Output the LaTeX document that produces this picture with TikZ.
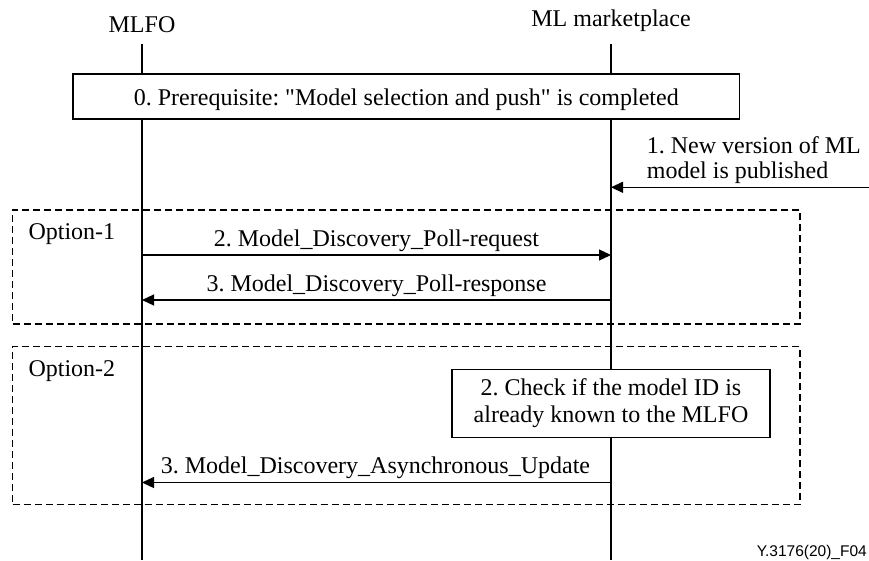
\documentclass[tikz,border=0pt]{standalone}
\usepackage{fontspec}
\setmainfont{Liberation Serif}
\newfontfamily\figsans{Liberation Sans}
\usetikzlibrary{arrows.meta}
\frenchspacing
\newcommand\straightdq{{\XeTeXglyph\XeTeXcharglyph 34\relax}}
\begin{document}
\begin{tikzpicture}[x=1pt,y=-1pt,
  txt/.style={font=\fontsize{24}{25}\selectfont, inner sep=0pt},
  lifeline/.style={line width=1.2pt},
  msg/.style={line width=1.2pt,-{Triangle[length=12pt,width=11pt]}},
  stepbox/.style={draw, fill=white, line width=1.2pt, inner sep=0pt},
  optbox/.style={draw, dash pattern=on 7pt off 4pt, line width=1.1pt}]
\useasboundingbox (0,0) rectangle (869,560);

% participants
\node[txt, anchor=base] (mlfo) at (142,32) {MLFO};
\node[txt, anchor=base] (mkt) at (611,26.5) {ML marketplace};

% lifelines
\coordinate (mlfoTop) at (142,44);
\coordinate (mlfoBot) at (142,560);
\coordinate (mktTop) at (611,44);
\coordinate (mktBot) at (611,560);
\draw[lifeline] (mlfoTop) -- (mlfoBot);
\draw[lifeline] (mktTop) -- (mktBot);

% step 0
\node[stepbox, txt, draw, fill=white, line width=1.2pt, minimum width=666.5pt, minimum height=45pt,
      text height=17pt, text depth=0pt] (pre) at (406.3,96.5)
  {\frenchspacing 0. Prerequisite: \straightdq Model selection and push\straightdq{} is completed};

% step 1
\coordinate (ext) at (869,187.3);
\coordinate (m1e) at (611,187.3);
\draw[msg] (ext) -- (m1e);
\node[txt, anchor=base west] (l1a) at (646.7,153.3) {\frenchspacing 1. New version of ML};
\node[txt, anchor=base west] (l1b) at (646.7,178.3) {model is published};

% option 1
\node[optbox, minimum width=787.3pt, minimum height=114pt, inner sep=0pt] (opt1) at (406.35,267) {};
\node[txt, anchor=base west] (o1) at (28.3,239.3) {Option-1};
\coordinate (m2s) at (142,255);
\coordinate (m2e) at (611,255);
\draw[msg] (m2s) -- (m2e);
\node[txt, anchor=base] (l2) at (376.5,246.7) {\frenchspacing 2. Model\_Discovery\_Poll-request};
\coordinate (m3s) at (611,300);
\coordinate (m3e) at (142,300);
\draw[msg] (m3s) -- (m3e);
\node[txt, anchor=base] (l3) at (376.5,291.7) {\frenchspacing 3. Model\_Discovery\_Poll-response};

% option 2
\node[optbox, minimum width=787.3pt, minimum height=158pt, inner sep=0pt] (opt2) at (406.35,425.5) {};
\node[txt, anchor=base west] (o2) at (28.3,376) {Option-2};
\node[stepbox, minimum width=318pt, minimum height=68pt, align=center,
      font=\fontsize{24}{27}\selectfont\frenchspacing] (chk) at (611,403.3)
  {2. Check if the model ID is\\already known to the MLFO};
\coordinate (m4s) at (611,482.5);
\coordinate (m4e) at (142,482.5);
\draw[msg] (m4s) -- (m4e);
\node[txt, anchor=base] (l4) at (375.5,473.3) {\frenchspacing 3. Model\_Discovery\_Asynchronous\_Update};

% figure id
\node[anchor=base east, inner sep=0pt, font=\figsans\fontsize{15.5}{17}\selectfont] (fig) at (867,556) {Y.3176(20)\_F04};
\end{tikzpicture}
\end{document}
